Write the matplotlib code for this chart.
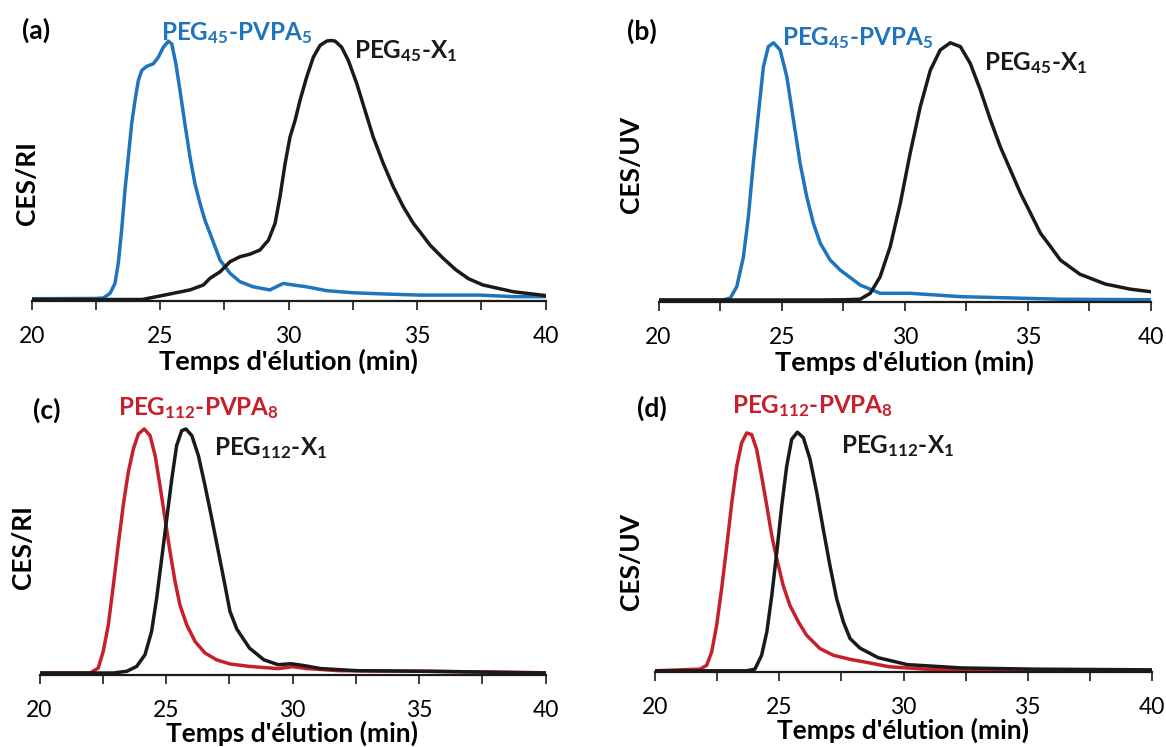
import numpy as np
import matplotlib
matplotlib.use("Agg")
from matplotlib import pyplot as plt

plt.rcParams['font.family'] = ['Lato', 'DejaVu Sans']
plt.rcParams['mathtext.fontset'] = 'custom'
plt.rcParams['mathtext.rm'] = 'Lato:bold'
plt.rcParams['mathtext.bf'] = 'Lato:bold'
plt.rcParams['mathtext.it'] = 'Lato:bold'

# couleurs
BLEU = "#1F74BE"
ROUGE = "#C71F2B"
NOIR = "#1A1A1A"

# (a) CES/RI - PEG45
a_bleu_t = [20, 22.5, 22.79, 23.05, 23.24, 23.37, 23.5, 23.63, 23.76, 23.89, 24.02, 24.15, 24.28,
            24.47, 24.73, 24.93, 25.12, 25.32, 25.45, 25.61, 25.77, 25.96, 26.16, 26.35, 26.55,
            26.74, 26.94, 27.33, 27.72, 28.1, 28.62, 29.27, 29.47, 29.79, 30.18, 30.7, 31.48,
            32.51, 33.81, 35.11, 37.44, 38.74, 40]
a_bleu_y = [0.003, 0.004, 0.006, 0.024, 0.062, 0.14, 0.268, 0.422, 0.55, 0.679, 0.769, 0.846, 0.884,
            0.9, 0.91, 0.936, 0.974, 0.997, 0.987, 0.91, 0.807, 0.679, 0.55, 0.448, 0.371,
            0.306, 0.255, 0.152, 0.101, 0.069, 0.049, 0.037, 0.047, 0.062, 0.056, 0.049, 0.034,
            0.026, 0.021, 0.017, 0.017, 0.011, 0.011]
a_noir_t = [20, 24.3, 24.86, 25.51, 26.16, 26.68, 26.94, 27.33, 27.72, 28.1, 28.49, 28.88, 29.21,
            29.47, 29.66, 29.86, 30.05, 30.25, 30.44, 30.7, 30.96, 31.22, 31.48, 31.64, 31.8,
            32.06, 32.32, 32.65, 32.97, 33.29, 33.68, 34.07, 34.46, 34.85, 35.11, 35.5, 36.0,
            36.5, 37.0, 37.56, 38.74, 40]
a_noir_y = [0, 0, 0.011, 0.024, 0.037, 0.056, 0.082, 0.107, 0.146, 0.165, 0.175, 0.191, 0.229,
            0.294, 0.396, 0.525, 0.627, 0.692, 0.769, 0.859, 0.936, 0.981, 0.998, 1.0, 0.998,
            0.974, 0.923, 0.833, 0.73, 0.627, 0.525, 0.435, 0.358, 0.294, 0.261, 0.21, 0.16,
            0.115, 0.08, 0.056, 0.03, 0.015]

# (b) CES/UV - PEG45
b_bleu_t = [20, 22.6, 22.91, 23.18, 23.45, 23.65, 23.85, 24.06, 24.26, 24.46, 24.67, 24.94, 25.21,
            25.48, 25.75, 26.02, 26.29, 26.57, 26.97, 27.38, 28.19, 29.0, 30.22, 32.26, 36.32, 40]
b_bleu_y = [0, 0, 0.007, 0.052, 0.168, 0.323, 0.53, 0.724, 0.904, 0.982, 0.997, 0.969, 0.866,
            0.698, 0.53, 0.4, 0.297, 0.22, 0.155, 0.116, 0.058, 0.026, 0.026, 0.013, 0.003, 0.001]
b_noir_t = [20, 26.4, 27.6, 28.19, 28.6, 29.0, 29.41, 29.82, 30.22, 30.63, 31.04, 31.44, 31.85,
            32.26, 32.66, 33.07, 33.48, 33.88, 34.29, 34.7, 35.11, 35.51, 35.92, 36.32, 37.11,
            38.14, 39.16, 40]
b_noir_y = [0, 0, 0.001, 0.003, 0.026, 0.09, 0.207, 0.375, 0.569, 0.749, 0.891, 0.969, 0.997,
            0.982, 0.917, 0.814, 0.698, 0.594, 0.504, 0.414, 0.336, 0.259, 0.207, 0.155, 0.1,
            0.062, 0.042, 0.032]

# (c) CES/RI - PEG112
c_rouge_t = [20, 22.0, 22.32, 22.52, 22.72, 22.92, 23.11, 23.31, 23.51, 23.71, 23.91, 24.14, 24.37,
             24.57, 24.76, 24.96, 25.16, 25.36, 25.55, 25.82, 26.15, 26.54, 27.0, 27.53, 28.3,
             29.43, 30.0, 30.57, 31.84, 35.37, 40]
c_rouge_y = [0, 0, 0.02, 0.089, 0.197, 0.36, 0.524, 0.687, 0.823, 0.918, 0.98, 1.0, 0.973,
             0.891, 0.769, 0.633, 0.497, 0.374, 0.279, 0.197, 0.129, 0.082, 0.054, 0.037, 0.027,
             0.018, 0.026, 0.018, 0.0095, 0.007, 0.001]
c_noir_t = [20, 22.92, 23.45, 23.84, 24.17, 24.43, 24.63, 24.83, 25.03, 25.23, 25.42, 25.62, 25.79,
            26.02, 26.28, 26.54, 26.81, 27.07, 27.33, 27.53, 27.8, 28.3, 28.87, 29.43, 29.93,
            30.42, 31.13, 32.55, 35.37, 40]
c_noir_y = [0, 0, 0.007, 0.027, 0.075, 0.17, 0.306, 0.469, 0.633, 0.796, 0.932, 0.993, 1.0,
            0.973, 0.891, 0.769, 0.633, 0.497, 0.36, 0.252, 0.18, 0.102, 0.054, 0.034, 0.038,
            0.031, 0.018, 0.0095, 0.007, 0]

# (d) CES/UV - PEG112
d_rouge_t = [20, 21.81, 22.08, 22.28, 22.48, 22.68, 22.89, 23.09, 23.29, 23.49, 23.69, 23.89, 24.09,
             24.29, 24.5, 24.7, 24.9, 25.16, 25.43, 25.77, 26.1, 26.64, 27.18, 27.85, 28.54,
             29.42, 30.88, 33.8, 40]
d_rouge_y = [0, 0.007, 0.023, 0.079, 0.19, 0.343, 0.524, 0.705, 0.858, 0.956, 0.997, 0.99, 0.928,
             0.816, 0.691, 0.566, 0.469, 0.357, 0.274, 0.205, 0.149, 0.093, 0.065, 0.048, 0.035,
             0.017, 0.007, 0.001, 0]
d_noir_t = [20, 23.69, 24.02, 24.29, 24.5, 24.7, 24.9, 25.1, 25.3, 25.5, 25.73, 25.97, 26.24,
            26.51, 26.77, 27.04, 27.31, 27.58, 27.85, 28.25, 28.98, 30.15, 32.34, 35.26, 40]
d_noir_y = [0, 0, 0.007, 0.065, 0.163, 0.316, 0.497, 0.691, 0.858, 0.97, 1.0, 0.977, 0.886,
            0.747, 0.594, 0.441, 0.302, 0.205, 0.135, 0.095, 0.055, 0.026, 0.012, 0.007, 0.004]

W, H = 1166, 747
fig = plt.figure(figsize=(W / 100, H / 100), dpi=100)


def panneau(x20, x40, axe, base, pic, haut, taille_x=19.5, pad_x=1):
    # axes placé en pixels: x20/x40 bornes de l'axe, axe = ligne du bas, base/pic = niveaux 0 et 1
    ax = fig.add_axes([x20 / W, 1 - axe / H, (x40 - x20) / W, (axe - haut) / H])
    k = base - pic
    ax.set_xlim(20, 40)
    ax.set_ylim(-(axe - base) / k, (base - haut) / k)
    for s in ['left', 'top', 'right']:
        ax.spines[s].set_visible(False)
    ax.spines['bottom'].set_linewidth(1.6)
    ax.spines['bottom'].set_color(NOIR)
    ax.set_yticks([])
    ax.set_xticks([20, 25, 30, 35, 40])
    ax.set_xticks([22.5, 27.5, 32.5, 37.5], minor=True)
    ax.tick_params(axis='x', which='both', direction='out', length=6.5, width=1.2,
                   color=NOIR, pad=11.5, labelsize=16.5)
    ax.set_xlabel("Temps d'élution (min)", fontsize=taille_x, fontweight='bold', labelpad=pad_x)
    return ax


def ylab(ax, txt, cx, cy, x20, x40, axe, haut):
    ax.set_ylabel(txt, fontsize=19, fontweight='bold', va='center')
    ax.yaxis.set_label_coords((cx - x20) / (x40 - x20), (axe - cy) / (axe - haut))


def etiquette(x, y, txt, couleur, taille=17.5, va='baseline'):
    fig.text(x / W, 1 - y / H, txt, color=couleur, fontsize=taille, fontweight='bold',
             ha='left', va=va)


def lettre(x, y, txt):
    fig.text(x / W, 1 - y / H, txt, fontsize=19, fontweight='bold', ha='center', va='center')


lw = 2.5

# (a)
ax = panneau(31.7, 545.7, 301, 299.5, 40.5, 20)
ax.plot(a_bleu_t, a_bleu_y, color=BLEU, lw=lw, solid_joinstyle='round')
ax.plot(a_noir_t, a_noir_y, color=NOIR, lw=lw, solid_joinstyle='round')
ylab(ax, "CES/RI", 26.8, 183, 31.7, 545.7, 301, 20)
etiquette(160.7, 40, r"PEG$_{\mathbf{45}}$-PVPA$_{\mathbf{5}}$", BLEU)
etiquette(353.6, 58.3, r"PEG$_{\mathbf{45}}$-X$_{\mathbf{1}}$", NOIR)
lettre(35.7, 30, "(a)")

# (b)
ax = panneau(658.5, 1151, 302, 300, 42, 20)
ax.plot(b_bleu_t, b_bleu_y, color=BLEU, lw=lw, solid_joinstyle='round')
ax.plot(b_noir_t, b_noir_y, color=NOIR, lw=lw, solid_joinstyle='round')
ylab(ax, "CES/UV", 630.7, 164, 658.5, 1151, 302, 20)
etiquette(782.3, 45, r"PEG$_{\mathbf{45}}$-PVPA$_{\mathbf{5}}$", BLEU)
etiquette(984.5, 70, r"PEG$_{\mathbf{45}}$-X$_{\mathbf{1}}$", NOIR)
lettre(641.5, 31.7, "(b)")

# (c)
ax = panneau(39.5, 545.5, 675, 673, 429, 400, taille_x=19, pad_x=-0.5)
ax.plot(c_rouge_t, c_rouge_y, color=ROUGE, lw=lw, solid_joinstyle='round')
ax.plot(c_noir_t, c_noir_y, color=NOIR, lw=lw, solid_joinstyle='round')
ylab(ax, "CES/RI", 23.2, 546.7, 39.5, 545.5, 675, 400)
etiquette(117.9, 415, r"PEG$_{\mathbf{112}}$-PVPA$_{\mathbf{8}}$", ROUGE)
etiquette(214.3, 455, r"PEG$_{\mathbf{112}}$-X$_{\mathbf{1}}$", NOIR)
lettre(46.4, 410, "(c)")

# (d)
ax = panneau(655, 1152, 672, 670.8, 432.2, 400, taille_x=19, pad_x=-0.5)
ax.plot(d_rouge_t, d_rouge_y, color=ROUGE, lw=lw, solid_joinstyle='round')
ax.plot(d_noir_t, d_noir_y, color=NOIR, lw=lw, solid_joinstyle='round')
ylab(ax, "CES/UV", 630.7, 561.7, 655, 1152, 672, 400)
etiquette(731.8, 413.3, r"PEG$_{\mathbf{112}}$-PVPA$_{\mathbf{8}}$", ROUGE)
etiquette(841, 453.3, r"PEG$_{\mathbf{112}}$-X$_{\mathbf{1}}$", NOIR)
lettre(652.3, 408.3, "(d)")

fig.savefig("out.png", dpi=100)
